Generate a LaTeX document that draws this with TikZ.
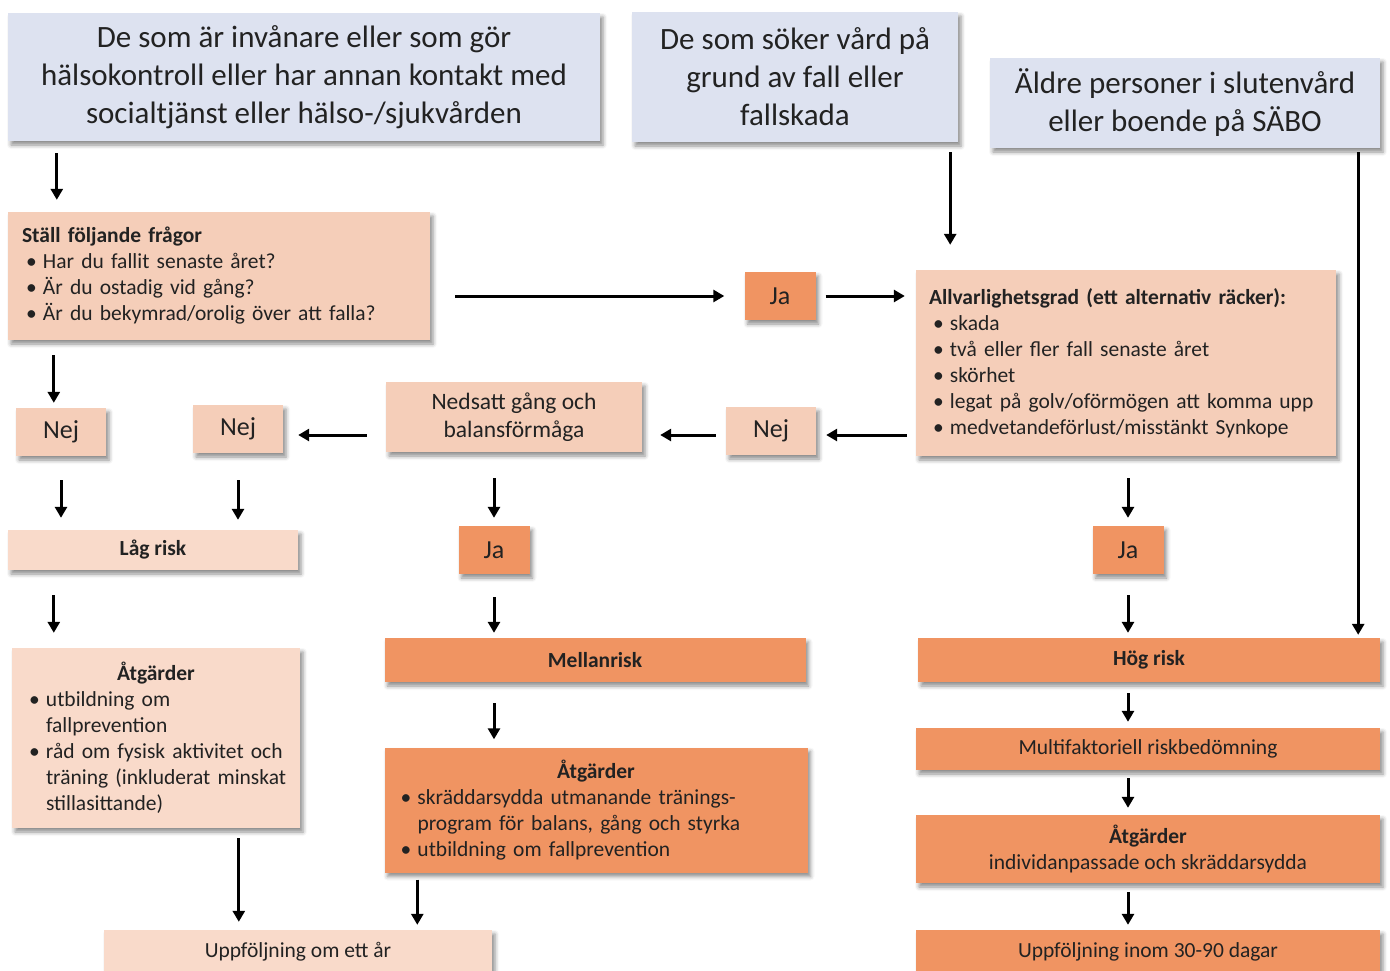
\documentclass[tikz,border=0pt]{standalone}
\usepackage{fontspec}
\setmainfont{Carlito}
\usetikzlibrary{calc}
\usetikzlibrary{arrows.meta}
\usetikzlibrary{shadows.blur}

\definecolor{topblue}{RGB}{221,226,240}
\definecolor{peachc}{RGB}{245,206,185}
\definecolor{palec}{RGB}{249,218,202}
\definecolor{hotc}{RGB}{240,148,98}
\definecolor{txt}{RGB}{34,34,34}

\newcommand{\topfont}{\fontsize{31pt}{38pt}\selectfont}
\newcommand{\bodyfont}{\fontsize{21.5pt}{26pt}\selectfont}
\newcommand{\midfont}{\fontsize{23.5pt}{28pt}\selectfont}
\newcommand{\jafont}{\fontsize{26pt}{30pt}\selectfont}
\newcommand{\blt}[1]{\makebox[21pt][l]{\hspace{4pt}\textbullet}\mbox{#1}}
\newcommand{\cont}[1]{\hspace*{21pt}\mbox{#1}}
\newcommand{\midtitle}[1]{\hfill\textbf{#1}\hfill\mbox{}}

\begin{document}
\begin{tikzpicture}[x=1pt, y=-1pt,
  box/.style={text=txt, font=\bodyfont, inner sep=0pt,
    blur shadow={shadow xshift=3pt, shadow yshift=-4pt, shadow blur radius=4pt, shadow opacity=45}},
  topbox/.style={box, fill=topblue, font=\topfont, align=center},
  peachbox/.style={box, fill=peachc},
  palebox/.style={box, fill=palec},
  hotbox/.style={box, fill=hotc},
  arr/.style={black, line width=3pt, -{Triangle[length=11pt, width=12pt]}}]
\useasboundingbox (0,0) rectangle (1390,970);

\node[topbox, minimum width=592pt, minimum height=128pt] (top1) at (304,77) {De som är invånare eller som gör\\hälsokontroll eller har annan kontakt med\\socialtjänst eller hälso-/sjukvården};
\node[topbox, minimum width=326pt, minimum height=130pt] (top2) at (795,77) {De som söker vård på\\grund av fall eller\\fallskada};
\node[topbox, minimum width=390pt, minimum height=90pt] (top3) at (1185,103) {Äldre personer i slutenvård\\eller boende på SÄBO};

\node[peachbox, text width=394pt, inner xsep=14pt, minimum height=128pt, align=left] (ask) at (219,276) {\textbf{Ställ följande frågor}\\\blt{Har du fallit senaste året?}\\\blt{Är du ostadig vid gång?}\\\blt{Är du bekymrad/orolig över att falla?}};
\node[peachbox, text width=394pt, inner xsep=13pt, minimum height=186pt, align=left] (sev) at (1126,363) {\textbf{Allvarlighetsgrad (ett alternativ räcker):}\\\blt{skada}\\\blt{två eller fler fall senaste året}\\\blt{skörhet}\\\blt{legat på golv/oförmögen att komma upp}\\\blt{medvetandeförlust/misstänkt Synkope}};
\node[peachbox, font=\midfont, align=center, minimum width=256pt, minimum height=70pt] (gait) at (514,417) {Nedsatt gång och\\balansförmåga};

\foreach \n/\x/\y in {nej1/61/432, nej2/238/429, nej3/771/431}
  \node[peachbox, font=\jafont, minimum width=90pt, minimum height=48pt] (\n) at (\x,\y) {Nej};
\foreach \n/\x/\y in {ja1/780/296, ja2/494/550, ja3/1128/550}
  \node[hotbox, font=\jafont, minimum width=71pt, minimum height=48pt] (\n) at (\x,\y) {Ja};

\node[palebox, minimum width=290pt, minimum height=40pt] (low) at (153,550) {\textbf{Låg risk}};
\node[palebox, text width=262pt, inner xsep=13pt, minimum height=180pt, align=left] (lowact) at (156,738) {\midtitle{Åtgärder}\\\blt{utbildning om}\\\cont{fallprevention}\\\blt{råd om fysisk aktivitet och}\\\cont{träning (inkluderat minskat}\\\cont{stillasittande)}};
\node[palebox, minimum width=388pt, minimum height=44pt] (follow1) at (298,952) {Uppföljning om ett år};

\node[hotbox, minimum width=421pt, minimum height=44pt] (mid) at (595,660) {\textbf{Mellanrisk}};
\node[hotbox, text width=399pt, inner xsep=12pt, minimum height=125pt, align=left] (midact) at (596,810) {\midtitle{Åtgärder}\\\blt{skräddarsydda utmanande tränings-}\\\cont{program för balans, gång och styrka}\\\blt{utbildning om fallprevention}};

\node[hotbox, minimum width=462pt, minimum height=44pt] (high) at (1149,660) {\textbf{Hög risk}};
\node[hotbox, minimum width=464pt, minimum height=42pt] (multi) at (1148,749) {Multifaktoriell riskbedömning};
\node[hotbox, align=center, minimum width=464pt, minimum height=68pt] (highact) at (1148,849) {\textbf{Åtgärder}\\individanpassade och skräddarsydda};
\node[hotbox, minimum width=464pt, minimum height=44pt] (follow2) at (1148,952) {Uppföljning inom 30-90 dagar};

\coordinate (c1) at ($(top1.south west)+(49,0)$);
\coordinate (c4) at ($(top2.south east)+(-8,0)$);
\coordinate (c5) at ($(top3.south east)+(-22,0)$);
\coordinate (c6) at ($(ask.south west)+(46,0)$);
\coordinate (c7) at ($(gait.west)+(0,18)$);
\coordinate (c8) at ($(nej3.west)+(0,4)$);
\coordinate (c12) at ($(low.south west)+(46,0)$);
\coordinate (c13) at ($(lowact.south west)+(227,0)$);
\coordinate (c17) at ($(midact.south west)+(33,0)$);

\draw[arr, shorten <=12pt, shorten >=12pt] (c1) -- (c1 |- ask.north);
\draw[arr, shorten <=25pt, shorten >=20pt] (ask.east |- ja1.west) -- (ja1.west);
\draw[arr, shorten <=10pt, shorten >=11pt] (ja1.east) -- (ja1.east -| sev.west);
\draw[arr, shorten <=10pt, shorten >=25pt] (c4) -- (c4 |- sev.north);
\draw[arr, shorten <=4pt, shorten >=3pt] (c5) -- (c5 |- high.north);
\draw[arr, shorten <=15pt, shorten >=5pt] (c6) -- (c6 |- nej1.north);
\draw[arr, shorten <=19pt, shorten >=15pt] (c7) -- (c7 -| nej2.east);
\draw[arr, shorten <=10pt, shorten >=18pt] (c8) -- (c8 -| gait.east);
\draw[arr, shorten <=9pt, shorten >=10pt] (c8 -| sev.west) -- (c8 -| nej3.east);
\draw[arr, shorten <=24pt, shorten >=12pt] (nej1.south) -- (nej1.south |- low.north);
\draw[arr, shorten <=27pt, shorten >=10pt] (nej2.south) -- (nej2.south |- low.north);
\draw[arr, shorten <=25pt, shorten >=15pt] (c12) -- (c12 |- lowact.north);
\draw[arr, shorten <=10pt, shorten >=8pt] (c13) -- (c13 |- follow1.north);
\draw[arr, shorten <=26pt, shorten >=8pt] (gait.south -| ja2.north) -- (ja2.north);
\draw[arr, shorten <=23pt, shorten >=5pt] (ja2.south) -- (ja2.south |- mid.north);
\draw[arr, shorten <=21pt, shorten >=8pt] (ja2.south |- mid.south) -- (ja2.south |- midact.north);
\draw[arr, shorten <=7pt, shorten >=5pt] (c17) -- (c17 |- follow1.north);
\draw[arr, shorten <=22pt, shorten >=8pt] (sev.south -| ja3.north) -- (ja3.north);
\draw[arr, shorten <=21pt, shorten >=5pt] (ja3.south) -- (ja3.south |- high.north);
\draw[arr, shorten <=11pt, shorten >=6pt] (ja3.south |- high.south) -- (ja3.south |- multi.north);
\draw[arr, shorten <=8pt, shorten >=7pt] (ja3.south |- multi.south) -- (ja3.south |- highact.north);
\draw[arr, shorten <=9pt, shorten >=5pt] (ja3.south |- highact.south) -- (ja3.south |- follow2.north);
\end{tikzpicture}
\end{document}
